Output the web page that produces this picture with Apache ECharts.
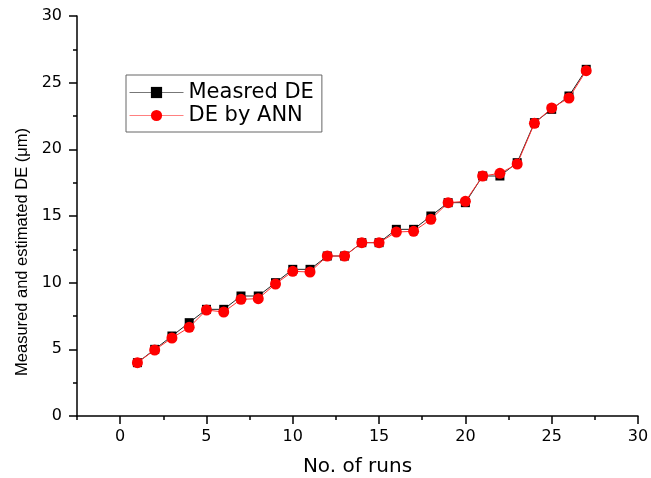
<!DOCTYPE html>
<html>
<head>
<meta charset="utf-8">
<script src="https://cdn.jsdelivr.net/npm/echarts@6/dist/echarts.min.js"></script>
<style>html,body{margin:0;padding:0;background:#fff}#c{width:651px;height:478px}</style>
</head>
<body>
<div id="c"></div>
<script>
const runs = [1,2,3,4,5,6,7,8,9,10,11,12,13,14,15,16,17,18,19,20,21,22,23,24,25,26,27];
const measuredDE = [4,5,6,7,8,8,9,9,10,11,11,12,12,13,13,14,14,15,16,16,18,18,19,22,23,24,26];
const annDE = [4,4.95,5.85,6.65,7.95,7.8,8.75,8.8,9.9,10.85,10.8,12,12,13,13,13.8,13.85,14.75,16,16.1,18,18.2,18.9,21.95,23.1,23.85,25.9];
const xTickLabels = [0,5,10,15,20,25,30];
const xMinorTicks = [-2.5,2.5,7.5,12.5,17.5,22.5,27.5];
const yTickLabels = [0,5,10,15,20,25,30];

const FONT = 'DejaVu Sans';
const chart = echarts.init(document.getElementById('c'), null, {renderer: 'canvas'});
const axisLineStyle = {color: '#000', width: 1.5};

chart.setOption({
  animation: false,
  backgroundColor: '#fff',
  grid: {left: 77, right: 13, top: 16, bottom: 62, containLabel: false, outerBoundsMode: 'none'},
  legend: {
    left: 126, top: 75, orient: 'vertical',
    itemWidth: 54, itemHeight: 14, itemGap: 2,
    padding: [7, 8, 6, 3],
    borderColor: '#666', borderWidth: 1,
    textStyle: {fontFamily: FONT, fontSize: 21, color: '#000'},
    data: [
      {name: 'Measred DE', lineStyle: {color: '#777', width: 1}},
      {name: 'DE by ANN', lineStyle: {color: '#ff8080', width: 1}}
    ]
  },
  xAxis: [{
    type: 'value', min: -2.5, max: 30, interval: 2.5,
    name: 'No. of runs', nameLocation: 'middle', nameGap: 41,
    nameTextStyle: {fontFamily: FONT, fontSize: 20, color: '#000'},
    axisLine: {show: true, onZero: false, lineStyle: axisLineStyle},
    axisTick: {show: true, inside: false, length: 4, lineStyle: {color: '#000', width: 1.5}},
    axisLabel: {
      margin: 13, fontFamily: FONT, fontSize: 16, color: '#000',
      formatter: v => xTickLabels.indexOf(v) >= 0 ? String(v) : ''
    },
    splitLine: {show: false}
  }, {
    type: 'value', min: -2.5, max: 30, position: 'bottom',
    axisLine: {show: false},
    axisTick: {show: true, inside: false, length: 8, customValues: xTickLabels, lineStyle: {color: '#000', width: 1.5}},
    axisLabel: {show: false},
    splitLine: {show: false}
  }],
  yAxis: {
    type: 'value', min: 0, max: 30, interval: 5,
    name: 'Measured and estimated DE (\u03bcm)', nameLocation: 'middle', nameGap: 46,
    nameTextStyle: {fontFamily: 'Liberation Sans', fontSize: 16.5, color: '#000', padding: [0, 72, 0, 0]},
    axisLine: {show: true, onZero: false, lineStyle: axisLineStyle},
    axisTick: {show: true, inside: false, length: 8, lineStyle: {color: '#000', width: 1.5}},
    minorTick: {show: true, splitNumber: 2, length: 4, lineStyle: {color: '#000', width: 1.5}},
    axisLabel: {margin: 15, fontFamily: FONT, fontSize: 16, color: '#000'},
    splitLine: {show: false}
  },
  series: [{
    name: 'Measred DE', type: 'line',
    data: runs.map((r, i) => [r, measuredDE[i]]),
    symbol: 'rect', symbolSize: 9,
    itemStyle: {color: '#000'},
    lineStyle: {color: '#222', width: 1},
    z: 2
  }, {
    name: 'DE by ANN', type: 'line',
    data: runs.map((r, i) => [r, annDE[i]]),
    symbol: 'circle', symbolSize: 11,
    itemStyle: {color: '#ff0000'},
    lineStyle: {color: '#ff3030', width: 1},
    z: 3
  }]
});
</script>
</body>
</html>
